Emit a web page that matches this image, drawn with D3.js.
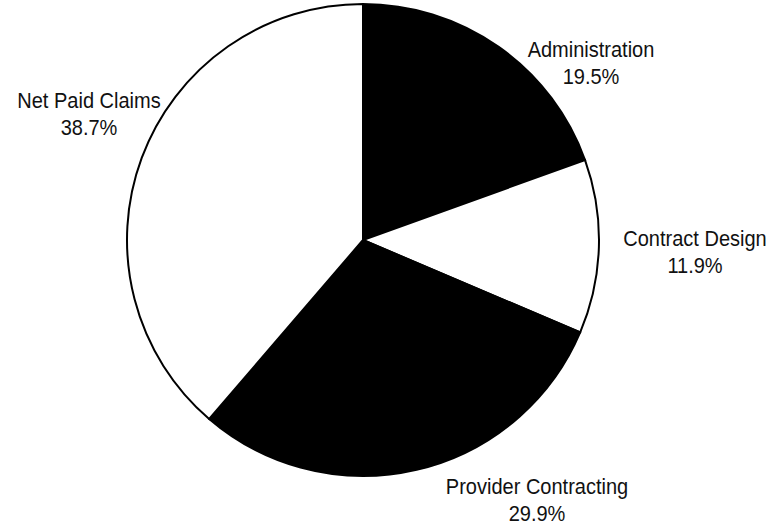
<!DOCTYPE html>
<html>
<head>
<meta charset="utf-8">
<script src="https://cdn.jsdelivr.net/npm/d3@7"></script>
<style>
  body { margin: 0; background: #fff; }
  text { font-family: "Liberation Sans", Arial, sans-serif; font-size: 22px; fill: #111; }
</style>
</head>
<body>
<svg id="chart" width="777" height="529"></svg>
<script>
// slice data, clockwise from 12 o'clock
const categories = ["Administration", "Contract Design", "Provider Contracting", "Net Paid Claims"]
const shares = [19.5, 11.9, 29.9, 38.7]

const fills = ["#000", "#fff", "#000", "#fff"]
// label anchor positions (text centre, first baseline)
const label_pos = [[591, 57], [695, 246], [537, 494], [89, 108]]

const cx = 363, cy = 240, r = 236

const svg = d3.select("#chart")

const pie = d3.pie().sort(null).value(d => d.value)
const arc = d3.arc().innerRadius(0).outerRadius(r)

const slices = pie(categories.map((c, i) => ({name: c, value: shares[i]})))

svg.append("g")
  .attr("transform", `translate(${cx},${cy})`)
  .selectAll("path")
  .data(slices).enter()
  .append("path")
  .attr("d", arc)
  .attr("fill", (d, i) => fills[i])
  .attr("stroke", "#000")
  .attr("stroke-width", 2)

// the scan's typeface is a little narrower than Arial, squeeze it
const labels = svg.append("g")
  .selectAll("text")
  .data(slices).enter()
  .append("text")
  .attr("text-anchor", "middle")
  .attr("transform", (d, i) => `translate(${label_pos[i][0]},${label_pos[i][1]}) scale(0.91,1)`)

labels.append("tspan")
  .attr("x", 0)
  .text(d => d.data.name)

labels.append("tspan")
  .attr("x", 0)
  .attr("dy", 27)
  .text(d => d3.format(".1f")(d.data.value) + "%")
</script>
</body>
</html>
